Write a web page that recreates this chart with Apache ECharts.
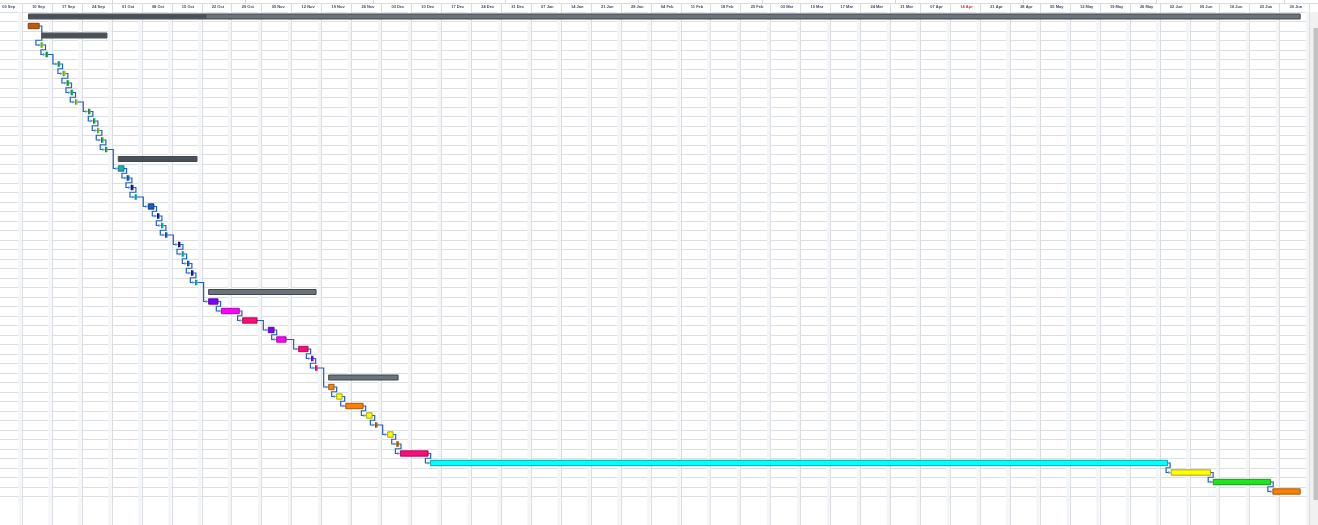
<!DOCTYPE html>
<html><head><meta charset="utf-8">
<script src="https://cdn.jsdelivr.net/npm/echarts@6/dist/echarts.min.js"></script>
<style>html,body{margin:0;padding:0;background:#fff;overflow:hidden}#c{width:1318px;height:525px}</style>
</head><body><div id="c"></div>
<script>
// ---- data (days since project start 2019-09-03) ----
const projectStart = '2019-09-03';
const weekLabels = ['03 Sep','10 Sep','17 Sep','24 Sep','01 Oct','08 Oct','15 Oct','22 Oct','29 Oct','05 Nov','12 Nov','19 Nov','26 Nov','03 Dec','10 Dec','17 Dec','24 Dec','31 Dec','07 Jan','14 Jan','21 Jan','28 Jan','04 Feb','11 Feb','18 Feb','25 Feb','03 Mar','10 Mar','17 Mar','24 Mar','31 Mar','07 Apr','14 Apr','21 Apr','28 Apr','05 May','12 May','19 May','26 May','02 Jun','09 Jun','16 Jun','23 Jun','30 Jun','07 Jul'];
const monthStarts = [28, 59, 89, 120, 151, 180, 211, 241, 272, 302];
const summaryRows = [0, 2, 15, 29, 38];
const taskStart = [8.49, 8.42, 11.63, 11.39, 12.56, 15.37, 16.54, 17.47, 18.41, 19.42,
  22.46, 23.63, 24.56, 25.50, 26.43, 29.48, 29.48, 31.51, 32.45, 33.38,
  36.49, 38.60, 39.54, 40.47, 43.51, 44.38, 45.62, 46.55, 47.49, 50.60,
  50.60, 53.57, 58.55, 64.56, 66.51, 71.65, 74.62, 75.56, 78.67, 78.67,
  80.54, 82.65, 87.49, 89.59, 92.47, 94.58, 95.44, 102.46, 275.64, 285.48, 299.43];
const taskEnd = [305.82, 10.99, 26.83, 11.86, 13.03, 15.84, 17.08, 17.94, 18.88, 19.88,
  22.93, 24.10, 25.03, 25.97, 26.90, 47.89, 30.81, 32.05, 32.99, 33.85,
  37.82, 39.07, 40.01, 40.94, 43.98, 44.85, 46.08, 47.02, 47.96, 75.72,
  52.80, 57.78, 61.92, 65.90, 68.71, 73.85, 75.02, 75.96, 94.90, 79.93,
  81.80, 86.72, 88.82, 89.99, 93.73, 94.97, 101.92, 274.80, 284.86, 298.90, 305.82];
// progress reached by each summary row (day)
const summaryDone = {0: 50.22, 2: 26.83, 15: 47.89, 29: 50.60, 38: 78.67};
const linkFrom = [1,3,4,5,6,7,8,9,10,11,12,13,14,16,17,18,19,20,21,22,23,24,25,26,27,28,30,31,32,33,34,35,36,37,39,40,41,42,43,44,45,46,47,48,49];
const linkTo   = [3,4,5,6,7,8,9,10,11,12,13,14,16,17,18,19,20,21,22,23,24,25,26,27,28,30,31,32,33,34,35,36,37,39,40,41,42,43,44,45,46,47,48,49,50];

// ---- styles ----
const taskColors = [null,'#c25a08',null,'#86c43a','#1cae3e','#19b063','#86c43a','#1cae3e','#19b063','#86c43a',
  '#1cae3e','#19b063','#86c43a','#1cae3e','#19b063',null,'#15b2b8','#1a5cc4','#1c1ca8','#15b2b8',
  '#1a5cc4','#1c1ca8','#15b2b8','#1a5cc4','#1c1ca8','#15b2b8','#1a5cc4','#1c1ca8','#15b2b8',null,
  '#8000ff','#ff00ff','#ff0a7a','#8000ff','#ff00ff','#ff0a7a','#8000ff','#ff0a7a',null,'#ff7f00',
  '#ffff00','#ff7f00','#ffff00','#c25a08','#ffff00','#c25a08','#ff0a7a','#00ffff','#ffff00','#1ee61e','#ff7f00'];
function darken(hex, f){const n=parseInt(hex.slice(1),16);const r=(n>>16)&255,g=(n>>8)&255,b=n&255;return 'rgb('+(r*f|0)+','+(g*f|0)+','+(b*f|0)+')';}

const PX_LEFT = -7.8, XMAX = 315, DAYPX = 4.277;
const gridRight = 1318 - (PX_LEFT + XMAX*DAYPX);
const GRID_LINE = '#d9dce1';

function mkX(gi, labels){
  return {type:'value', gridIndex:gi, min:0, max:XMAX, interval:7, position:'top',
    axisLine:{show:false}, axisTick:{show:false},
    splitLine:{show:true, lineStyle:{color:GRID_LINE, width:1}},
    axisLabel: labels ? {show:true, inside:true, margin:1.6, fontSize:4, fontWeight:'bold',
      fontFamily:'Liberation Sans, Arial, sans-serif', align:'left', padding:[0,0,0,10],
      showMinLabel:true, showMaxLabel:true, hideOverlap:false,
      color:(v)=> weekLabels[Math.round(v/7)]==='14 Apr' ? '#d0342c' : '#3a4c72',
      formatter:(v)=> weekLabels[Math.round(v/7)] || ''} : {show:false}};
}

const rows = taskStart.map((s,i)=>[i, s, taskEnd[i]]);
const links = linkFrom.map((f,i)=>[f, linkTo[i]]);
const weekIdx = weekLabels.map((_,k)=>[k+1]);

function bandItem(){
  return function(params, api){
    const cs = params.coordSys;
    const d = api.value(0)*7;
    const a = api.coord([d-0.86, 0])[0], b = api.coord([d, 0])[0];
    const y0 = cs.y, y1 = cs.y + cs.height;
    return {type:'rect', shape:{x:a, y:y0, width:b-a-0.5, height:y1-y0}, style:{fill:'#f4f5f7'}};
  };
}

const option = {
  animation:false, backgroundColor:'#ffffff',
  grid:[
    {left:PX_LEFT, right:gridRight, top:3.3, height:8.45, outerBoundsMode:'none', containLabel:false},
    {left:PX_LEFT, right:gridRight, top:11.75, height:51*9.5, outerBoundsMode:'none', containLabel:false},
    {left:PX_LEFT, right:gridRight, top:11.75+51*9.5, bottom:0, outerBoundsMode:'none', containLabel:false}
  ],
  xAxis:[mkX(0,true), mkX(1,false), mkX(2,false)],
  yAxis:[
    {type:'value', gridIndex:0, min:0, max:1, interval:1, inverse:true, axisLine:{show:false}, axisTick:{show:false}, axisLabel:{show:false}, splitLine:{show:true, lineStyle:{color:GRID_LINE}}},
    {type:'value', gridIndex:1, min:0, max:51, interval:1, inverse:true, axisLine:{show:false}, axisTick:{show:false}, axisLabel:{show:false}, splitLine:{show:true, lineStyle:{color:'#dcdee2'}}},
    {type:'value', gridIndex:2, min:0, max:1, interval:1, axisLine:{show:false}, axisTick:{show:false}, axisLabel:{show:false}, splitLine:{show:false}}
  ],
  graphic:[
    {type:'rect', z:100, shape:{x:1310, y:12, width:8, height:513}, style:{fill:'#f1f1f1'}},
    {type:'rect', z:101, shape:{x:1313.5, y:28, width:4.5, height:472}, style:{fill:'#c1c1c1'}}
  ],
  series:[
    {type:'custom', name:'bands', xAxisIndex:1, yAxisIndex:1, data:weekIdx, z:0, silent:true, renderItem:bandItem()},
    {type:'custom', name:'bands2', xAxisIndex:2, yAxisIndex:2, data:weekIdx, z:0, silent:true, renderItem:bandItem()},
    {type:'custom', name:'months', xAxisIndex:0, yAxisIndex:0, data:monthStarts.map(m=>[m]), z:1, silent:true, clip:false,
      renderItem(params, api){
        const x = Math.round(api.coord([api.value(0), 0])[0]) + 0.5;
        const y = params.coordSys.y;
        return {type:'line', shape:{x1:x, y1:0, x2:x, y2:y}, style:{stroke:'#d4d7dc', lineWidth:1}};
      }},
    {type:'custom', name:'links', xAxisIndex:1, yAxisIndex:1, data:links, z:3, silent:true,
      renderItem(params, api){
        const f = api.value(0), t = api.value(1);
        const pe = api.coord([taskEnd[f], f+0.5]);
        const ps = api.coord([taskStart[t], t+0.5]);
        const rh = api.size([0,1])[1];
        const turnX = ps[0]-5;
        let pts;
        if (turnX >= pe[0]+2.5) {
          pts = [pe, [turnX, pe[1]], [turnX, ps[1]], [ps[0]-1, ps[1]]];
        } else {
          const ox = pe[0]+2.6, my = ps[1]-rh/2;
          pts = [pe, [ox, pe[1]], [ox, my], [turnX, my], [turnX, ps[1]], [ps[0]-1, ps[1]]];
        }
        return {type:'group', children:[
          {type:'polyline', shape:{points:pts}, style:{stroke:'#1f5fbf', lineWidth:1.2, fill:null}},
          {type:'polygon', shape:{points:[[ps[0]-3, ps[1]-1.6],[ps[0], ps[1]],[ps[0]-3, ps[1]+1.6]]}, style:{fill:'#6a9ddf'}}
        ]};
      }},
    {type:'custom', name:'tasks', xAxisIndex:1, yAxisIndex:1, data:rows, z:4, silent:true,
      encode:{x:[1,2], y:0},
      renderItem(params, api){
        const i = api.value(0);
        const p0 = api.coord([api.value(1), i+0.5]);
        const p1 = api.coord([api.value(2), i+0.5]);
        if (summaryRows.indexOf(i) >= 0) {
          const h = 5;
          const y = p0[1]-h/2;
          const children = [{type:'rect', shape:{x:p0[0], y:y, width:p1[0]-p0[0], height:h}, style:{fill:'#6b737b', stroke:'#41474e', lineWidth:1}}];
          const pd = api.coord([summaryDone[i], i+0.5]);
          if (pd[0] > p0[0]+0.5) children.push({type:'rect', shape:{x:p0[0]+0.5, y:y+0.5, width:pd[0]-p0[0]-1, height:h-1}, style:{fill:'#4a5058'}});
          return {type:'group', children};
        }
        const h = 5.4;
        const c = taskColors[i];
        const w = p1[0]-p0[0];
        if (w < 4) {
          return {type:'group', children:[
            {type:'rect', shape:{x:p0[0]-0.2, y:p0[1]-h/2, width:Math.max(w, 2)+0.4, height:h}, style:{fill:c}},
            {type:'rect', shape:{x:p0[0]-0.2, y:p0[1]-h/2, width:0.8, height:h}, style:{fill:darken(c, 0.7)}}
          ]};
        }
        return {type:'rect', shape:{x:p0[0], y:p0[1]-h/2, width:w, height:h},
          style:{fill:c, stroke:darken(c, 0.62), lineWidth:0.9}};
      }}
  ]
};
const chart = echarts.init(document.getElementById('c'), null, {renderer:'canvas'});
chart.setOption(option);
</script></body></html>
